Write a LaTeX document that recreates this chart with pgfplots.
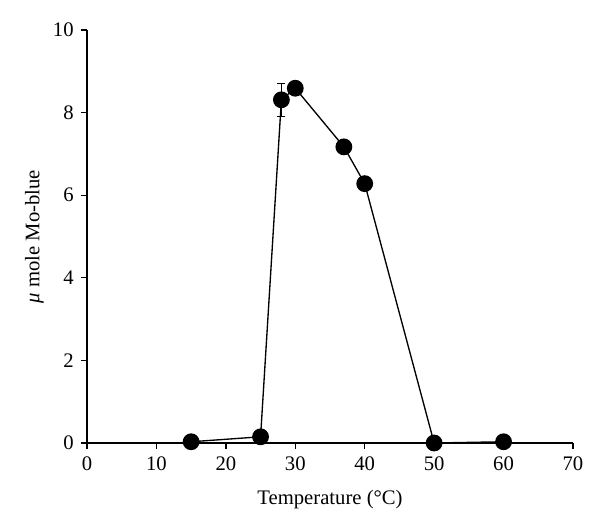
\documentclass[border=0pt]{standalone}
\usepackage{fontspec}
\setmainfont{Liberation Serif}
\usepackage{pgfplots}
\pgfplotsset{compat=1.18}

\begin{document}
\begin{tikzpicture}[x=1pt,y=1pt]
% bounding box matching the reference proportions (1px = 0.75pt)
\path[use as bounding box] (-65.25,-66.75) rectangle (384.75,332.25);
\begin{axis}[
  at={(0,0)}, anchor=south west,
  scale only axis,
  width=364.5pt, height=309.75pt,
  xmin=0, xmax=70, ymin=0, ymax=10,
  xtick={0,10,...,70}, ytick={0,2,...,10},
  axis lines=left,
  axis line style={-, line width=1pt},
  tick align=outside,
  major tick length=4.5pt,
  tick style={line width=1pt, black},
  /pgf/number format/assume math mode=true,
  tick label style={font=\fontsize{15.5}{18}\selectfont},
  label style={font=\fontsize{15.5}{18}\selectfont},
  xticklabel style={yshift=-2pt},
  yticklabel style={xshift=-2pt},
  xlabel={Temperature (°C)},
  ylabel={\textit{μ} mole Mo-blue},
  xlabel style={yshift=-8pt},
  ylabel style={yshift=0pt},
  clip=false,
]
\addplot[black, line width=1pt, mark=*, mark size=5.8pt,
  mark options={solid, fill=black}] coordinates {
  (15,0.03)
  (25,0.15)
  (28,8.31)
  (30,8.59)
  (37,7.17)
  (40,6.28)
  (50,0.0)
  (60,0.03)
};
\addplot[black, line width=0.8pt, mark=none, draw=none,
  error bars/.cd, y dir=both, y explicit,
  error mark options={rotate=90, mark size=3pt, line width=0.8pt},
  error bar style={line width=0.8pt}]
  coordinates {(28,8.31) +- (0,0.40)};
\end{axis}
\end{tikzpicture}
\end{document}
